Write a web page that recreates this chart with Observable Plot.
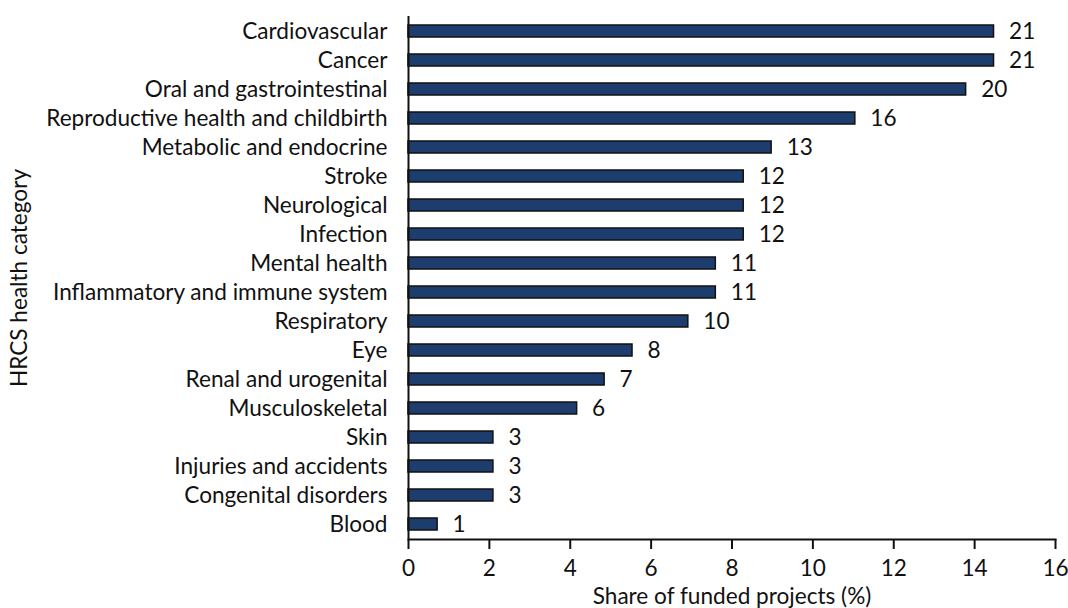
<!DOCTYPE html>
<html>
<head>
<meta charset="utf-8">
<script src="https://cdn.jsdelivr.net/npm/d3@7"></script>
<script src="https://cdn.jsdelivr.net/npm/@observablehq/plot@0.6"></script>
<style>
  html, body { margin: 0; padding: 0; background: #fff; }
  svg { display: block; }
</style>
</head>
<body>
<div id="chart"></div>
<script>
const categories = [
  "Cardiovascular", "Cancer", "Oral and gastrointestinal",
  "Reproductive health and childbirth", "Metabolic and endocrine",
  "Stroke", "Neurological", "Infection", "Mental health",
  "Inflammatory and immune system", "Respiratory", "Eye",
  "Renal and urogenital", "Musculoskeletal", "Skin",
  "Injuries and accidents", "Congenital disorders", "Blood"
];
const shares = [14.48, 14.48, 13.79, 11.05, 8.98, 8.29, 8.29, 8.29, 7.6, 7.6, 6.92, 5.54, 4.85, 4.17, 2.1, 2.1, 2.1, 0.72];
const counts = [21, 21, 20, 16, 13, 12, 12, 12, 11, 11, 10, 8, 7, 6, 3, 3, 3, 1];
const xTicks = [0, 2, 4, 6, 8, 10, 12, 14, 16];

const data = categories.map((c, i) => ({category: c, share: shares[i], count: counts[i]}));

const FS = 22.6;
const chart = Plot.plot({
  width: 1068,
  height: 608,
  marginTop: 16,
  marginBottom: 69,
  marginLeft: 408,
  marginRight: 13,
  style: {fontFamily: "Lato, sans-serif", fontSize: FS + "px", color: "#111", background: "#fff"},
  x: {domain: [0, 16]},
  y: {domain: categories, paddingInner: 0.59, paddingOuter: 0.295},
  marks: [
    Plot.barX(data, {x: "share", y: "category", fill: "#1d3d6e", stroke: "#111", strokeWidth: 1.5}),
    Plot.text(data, {x: "share", y: "category", text: d => String(d.count), dx: 15, textAnchor: "start", fontSize: FS, fill: "#111"}),
    Plot.ruleX([0], {stroke: "#111", strokeWidth: 2}),
    Plot.frame({anchor: "bottom", stroke: "#111", strokeWidth: 2}),
    Plot.axisY({tickSize: 0, tickPadding: 21, fontSize: FS, label: "HRCS health category", labelAnchor: "center", labelArrow: "none", labelOffset: 398}),
    Plot.axisX({ticks: xTicks, tickSize: 10, tickPadding: 10, strokeWidth: 2, fontSize: FS, label: "Share of funded projects (%)", labelAnchor: "center", labelArrow: "none", labelOffset: 64})
  ]
});
document.getElementById("chart").appendChild(chart);
</script>
</body>
</html>
